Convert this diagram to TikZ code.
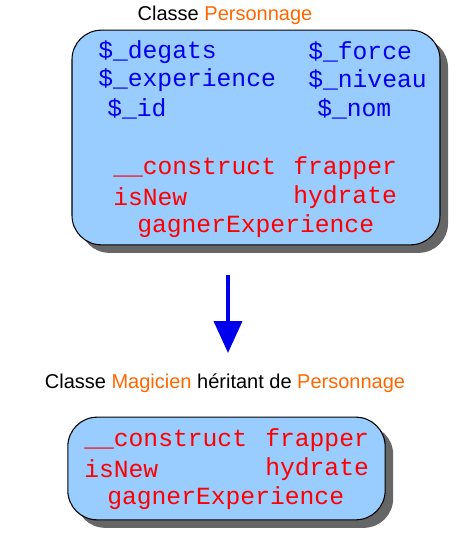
\documentclass[tikz,border=0pt]{standalone}
\usepackage{fontspec}
\setmainfont{Liberation Sans}
\newfontfamily\mono{Liberation Mono}
\usetikzlibrary{arrows.meta,shadows}
\definecolor{boxblue}{HTML}{99CCFF}
\definecolor{orng}{HTML}{FF6600}
\definecolor{fblue}{HTML}{0000EE}
\begin{document}
\begin{tikzpicture}[x=0.75pt,y=-0.75pt,
  box/.style={draw=black,fill=boxblue,rounded corners=22pt,line width=0.8pt,
    drop shadow={shadow xshift=6pt,shadow yshift=-6pt,fill=black!60,opacity=1}},
  title/.style={font=\fontsize{15}{18}\selectfont,anchor=base},
  attr/.style={font=\mono\fontsize{18.5}{20}\selectfont,text=fblue,anchor=west,inner sep=0},
  meth/.style={font=\mono\fontsize{18.5}{20}\selectfont,text=red,anchor=west,inner sep=0}]
\useasboundingbox (0,0) rectangle (457,536);
\node[title] (t1) at (225,20) {Classe \textcolor{orng}{Personnage}};
\node[box,minimum width=276pt,minimum height=161pt,inner sep=0] (b1) at (256,137.5) {};
\node[attr] (a1) at (98,52) {\$\_degats};
\node[attr] (a2) at (308,52) {\$\_force};
\node[attr] (a3) at (98,80) {\$\_experience};
\node[attr] (a4) at (308,80) {\$\_niveau};
\node[attr] (a5) at (107,109) {\$\_id};
\node[attr] (a6) at (317,109) {\$\_nom};
\node[meth] (m1) at (113,168) {\_\_construct};
\node[meth] (m2) at (293,168) {frapper};
\node[meth] (m3) at (113,197) {isNew};
\node[meth] (m4) at (293,197) {hydrate};
\node[meth] (m5) at (137,226) {gagnerExperience};
\coordinate (s) at (228,275);
\coordinate (e) at (228,353);
\draw[fblue,line width=3pt,-{Triangle[length=24pt,width=21pt]}] (s) -- (e);
\node[title] (t2) at (225,388) {Classe \textcolor{orng}{Magicien} héritant de \textcolor{orng}{Personnage}};
\node[box,minimum width=238pt,minimum height=77pt,inner sep=0] (b2) at (226.5,468.5) {};
\node[meth] (n1) at (84,440) {\_\_construct};
\node[meth] (n2) at (265,440) {frapper};
\node[meth] (n3) at (84,469) {isNew};
\node[meth] (n4) at (265,469) {hydrate};
\node[meth] (n5) at (107,498) {gagnerExperience};
\end{tikzpicture}
\end{document}
